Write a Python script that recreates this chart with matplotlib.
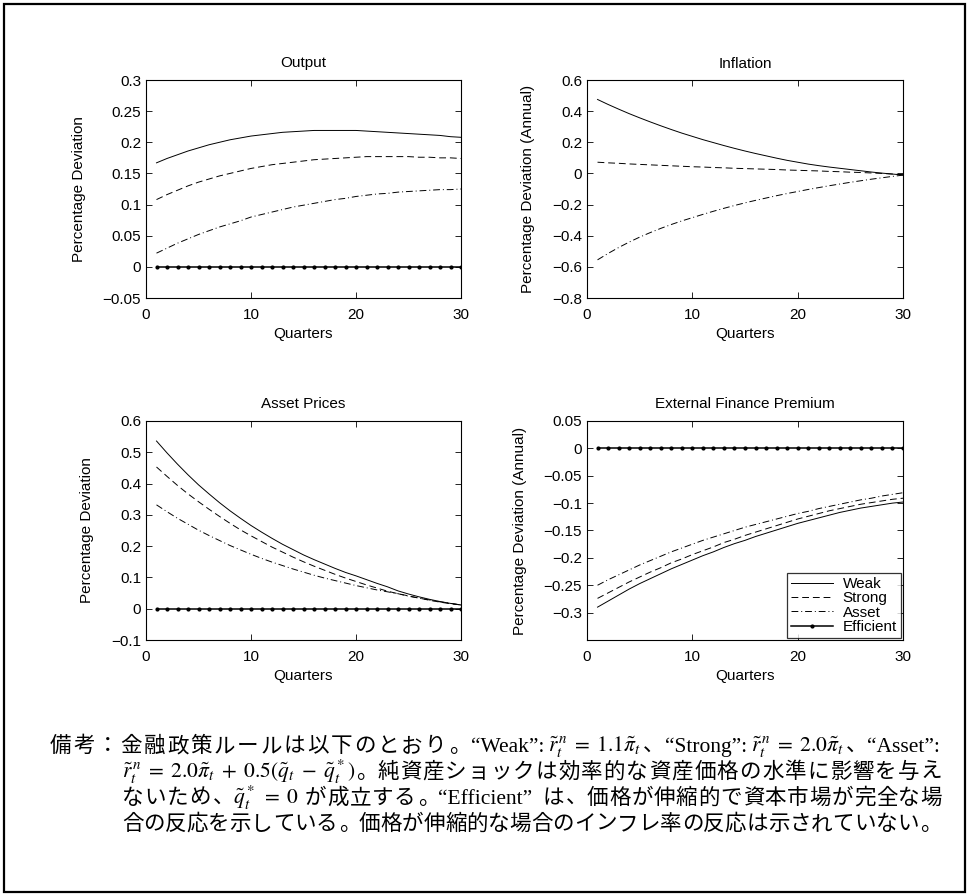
import numpy as np
import matplotlib
matplotlib.use('Agg')
import matplotlib.pyplot as plt
from matplotlib.patches import Rectangle

plt.rcParams['font.family'] = ['Liberation Sans', 'DejaVu Sans']
plt.rcParams['mathtext.fontset'] = 'stix'
plt.rcParams['axes.linewidth'] = 0.8

# quarters after the net worth shock
quarters = np.arange(1, 31)

# Output
output_weak = [0.167, 0.174, 0.180, 0.186, 0.191, 0.196, 0.200, 0.204, 0.207, 0.210,
               0.212, 0.214, 0.216, 0.217, 0.218, 0.219, 0.219, 0.219, 0.219, 0.219,
               0.218, 0.217, 0.216, 0.215, 0.214, 0.213, 0.212, 0.211, 0.209, 0.208]
output_strong = [0.108, 0.116, 0.123, 0.130, 0.136, 0.141, 0.146, 0.150, 0.154, 0.158,
                 0.161, 0.164, 0.166, 0.168, 0.170, 0.172, 0.173, 0.174, 0.175, 0.176,
                 0.177, 0.177, 0.177, 0.177, 0.177, 0.176, 0.176, 0.175, 0.175, 0.174]
output_asset = [0.022, 0.030, 0.038, 0.045, 0.052, 0.058, 0.064, 0.069, 0.074, 0.080,
                0.084, 0.088, 0.092, 0.096, 0.099, 0.102, 0.105, 0.108, 0.110, 0.113,
                0.115, 0.117, 0.118, 0.120, 0.121, 0.122, 0.123, 0.124, 0.124, 0.125]

# Inflation (annual)
infl_weak = [0.475, 0.443, 0.413, 0.384, 0.357, 0.331, 0.306, 0.282, 0.259, 0.238,
             0.217, 0.198, 0.179, 0.161, 0.144, 0.128, 0.113, 0.098, 0.084, 0.072,
             0.060, 0.050, 0.041, 0.033, 0.025, 0.017, 0.009, 0.002, -0.004, -0.010]
infl_strong = [0.072, 0.068, 0.065, 0.061, 0.058, 0.055, 0.052, 0.049, 0.046, 0.043,
               0.041, 0.038, 0.036, 0.033, 0.031, 0.029, 0.027, 0.025, 0.022, 0.020,
               0.018, 0.016, 0.013, 0.011, 0.008, 0.006, 0.003, 0.000, -0.004, -0.008]
infl_asset = [-0.555, -0.514, -0.476, -0.441, -0.409, -0.380, -0.353, -0.328, -0.305, -0.284,
              -0.263, -0.243, -0.224, -0.206, -0.189, -0.173, -0.158, -0.143, -0.129, -0.116,
              -0.103, -0.091, -0.079, -0.068, -0.057, -0.047, -0.037, -0.028, -0.019, -0.011]

# Asset prices
asset_weak = [0.536, 0.498, 0.462, 0.428, 0.396, 0.367, 0.339, 0.313, 0.289, 0.266,
              0.245, 0.225, 0.206, 0.189, 0.172, 0.157, 0.143, 0.129, 0.116, 0.105,
              0.093, 0.081, 0.070, 0.057, 0.047, 0.038, 0.030, 0.023, 0.017, 0.012]
asset_strong = [0.453, 0.423, 0.394, 0.367, 0.342, 0.318, 0.295, 0.273, 0.252, 0.233,
                0.215, 0.197, 0.181, 0.165, 0.150, 0.136, 0.123, 0.110, 0.098, 0.087,
                0.076, 0.066, 0.056, 0.048, 0.041, 0.034, 0.027, 0.021, 0.016, 0.012]
asset_asset = [0.332, 0.310, 0.289, 0.270, 0.251, 0.234, 0.218, 0.202, 0.188, 0.174,
               0.161, 0.149, 0.138, 0.127, 0.117, 0.107, 0.098, 0.090, 0.082, 0.074,
               0.067, 0.060, 0.054, 0.048, 0.040, 0.034, 0.028, 0.022, 0.017, 0.012]

# External finance premium (annual)
efp_weak = [-0.290, -0.279, -0.268, -0.257, -0.247, -0.238, -0.229, -0.220, -0.212, -0.204,
            -0.196, -0.189, -0.181, -0.174, -0.168, -0.161, -0.155, -0.149, -0.143, -0.137,
            -0.132, -0.127, -0.122, -0.117, -0.113, -0.109, -0.106, -0.103, -0.100, -0.098]
efp_strong = [-0.274, -0.264, -0.254, -0.244, -0.235, -0.226, -0.218, -0.209, -0.202, -0.194,
              -0.187, -0.180, -0.172, -0.166, -0.159, -0.153, -0.147, -0.141, -0.135, -0.129,
              -0.124, -0.119, -0.114, -0.110, -0.106, -0.102, -0.099, -0.096, -0.093, -0.091]
efp_asset = [-0.250, -0.240, -0.231, -0.222, -0.213, -0.205, -0.197, -0.189, -0.182, -0.175,
             -0.168, -0.162, -0.156, -0.150, -0.144, -0.139, -0.134, -0.129, -0.124, -0.119,
             -0.115, -0.110, -0.106, -0.102, -0.098, -0.094, -0.091, -0.087, -0.084, -0.081]

# flexible price / perfect capital market case
efficient = [0.0] * 30

labels = ['Weak', 'Strong', 'Asset', 'Efficient']
xticks = [0, 10, 20, 30]

W, H = 969, 896


def px_rect(x0, y0, x1, y1):
    # pixel box (top-left origin) -> figure fraction
    return [x0 / W, 1 - y1 / H, (x1 - x0) / W, (y1 - y0) / H]


def panel(rect, title, ylabel, ylim, yticks, yticklabels, weak, strong, asset, eff=True):
    ax = fig.add_axes(px_rect(*rect))
    ax.plot(quarters, weak, 'k-', lw=0.7, label=labels[0])
    ax.plot(quarters, strong, 'k--', lw=0.7, dashes=(7, 4), label=labels[1])
    ax.plot(quarters, asset, 'k-.', lw=0.7, dashes=(7, 3, 1, 3), label=labels[2])
    if eff:
        ax.plot(quarters, efficient, 'k.-', lw=1.1, ms=4, label=labels[3])
    ax.set_xlim(0, 30)
    ax.set_ylim(*ylim)
    ax.set_xticks(xticks)
    ax.set_yticks(yticks)
    ax.set_yticklabels(yticklabels)
    ax.tick_params(direction='in', top=True, right=True, length=4, width=0.6, labelsize=11)
    ax.tick_params(axis='x', pad=7)
    ax.set_title(title, fontsize=11, pad=9)
    ax.set_xlabel('Quarters', fontsize=11, labelpad=4)
    ax.set_ylabel(ylabel, fontsize=11, labelpad=12)
    return ax


fig = plt.figure(figsize=(W / 100, H / 100), dpi=100)

panel((146, 80, 461, 298), 'Output', 'Percentage Deviation', (-0.05, 0.3),
      [-0.05, 0, 0.05, 0.1, 0.15, 0.2, 0.25, 0.3],
      ['\u22120.05', '0', '0.05', '0.1', '0.15', '0.2', '0.25', '0.3'],
      output_weak, output_strong, output_asset)
panel((587, 80, 903, 298), 'Inflation', 'Percentage Deviation (Annual)', (-0.8, 0.6),
      [-0.8, -0.6, -0.4, -0.2, 0, 0.2, 0.4, 0.6],
      ['\u22120.8', '\u22120.6', '\u22120.4', '\u22120.2', '0', '0.2', '0.4', '0.6'],
      infl_weak, infl_strong, infl_asset, eff=False)
panel((146, 421, 461, 640), 'Asset Prices', 'Percentage Deviation', (-0.1, 0.6),
      [-0.1, 0, 0.1, 0.2, 0.3, 0.4, 0.5, 0.6],
      ['\u22120.1', '0', '0.1', '0.2', '0.3', '0.4', '0.5', '0.6'],
      asset_weak, asset_strong, asset_asset)
ax4 = panel((587, 421, 903, 640), 'External Finance Premium', 'Percentage Deviation (Annual)',
            (-0.35, 0.05),
            [-0.3, -0.25, -0.2, -0.15, -0.1, -0.05, 0, 0.05],
            ['\u22120.3', '\u22120.25', '\u22120.2', '\u22120.15', '\u22120.1', '\u22120.05', '0', '0.05'],
            efp_weak, efp_strong, efp_asset)
leg = ax4.legend(loc='lower right', fontsize=11, frameon=True, fancybox=False,
                 handlelength=2.8, handletextpad=0.6, labelspacing=0.02,
                 borderpad=0.25, borderaxespad=0.15)
leg.get_frame().set_edgecolor('black')
leg.get_frame().set_linewidth(0.9)

# note below the panels: CJK set one em per character, Latin in serif, formulas in mathtext
FS = 15.5
EM = FS * 100 / 72
note_lines = [
    (50, 752, True, [('備考：金融政策ルールは以下のとおり。“Weak”:', 0),
                     (r'$\tilde{r}^{\,n}_t\;=\;1.1\tilde{\pi}_t$', 1),
                     ('、“Strong”:', 0),
                     (r'$\tilde{r}^{\,n}_t\;=\;2.0\tilde{\pi}_t$', 1),
                     ('、“Asset”:', 0)]),
    (122, 778, True, [(r'$\tilde{r}^{\,n}_t\;=\;2.0\tilde{\pi}_t\;+\;0.5(\tilde{q}_t\;-\;\tilde{q}^*_t)$', 1),
                      ('。純資産ショックは効率的な資産価格の水準に影響を与え', 0)]),
    (122, 804, True, [('ないため、', 0),
                      (r'$\tilde{q}^*_t\;=\;0$', 1),
                      (' が成立する。“Efficient” は、価格が伸縮的で資本市場が完全な場', 0)]),
    (122, 830, False, [('合の反応を示している。価格が伸縮的な場合のインフレ率の反応は示されていない。', 0)]),
]
RIGHT = 942
serif_cjk = ['Liberation Serif', 'Noto Sans CJK JP']


def split_tokens(pieces):
    out = []
    for s, is_math in pieces:
        if is_math:
            out.append(('math', s))
            continue
        run = ''
        for ch in s:
            if ch == ' ' or ord(ch) >= 0x3000:
                if run:
                    out.append(('latin', run))
                    run = ''
                out.append(('space', ch) if ch == ' ' else ('cjk', ch))
            else:
                run += ch
        if run:
            out.append(('latin', run))
    return out


renderer = fig.canvas.get_renderer()
for x0, ybase, justify, pieces in note_lines:
    toks = split_tokens(pieces)
    items = []
    for kind, s in toks:
        if kind == 'space':
            items.append((None, EM * 0.3, kind, s))
            continue
        if kind == 'math':
            t = fig.text(0, 1 - ybase / H, s, fontsize=FS, va='baseline', ha='left')
            w = t.get_window_extent(renderer).width - 2
        elif kind == 'latin':
            t = fig.text(0, 1 - ybase / H, s, fontsize=FS, va='baseline', ha='left', family=serif_cjk)
            w = t.get_window_extent(renderer).width + 2
        else:
            ha = 'left' if s in '。、' else 'center'
            t = fig.text(0, 1 - ybase / H, s, fontsize=FS, va='baseline', ha=ha, family=serif_cjk)
            w = EM
        items.append((t, w, kind, s))
    natural = sum(w for _, w, _, _ in items)
    gap = (RIGHT - x0 - natural) / (len(items) - 1) if justify else 0.0
    x = x0
    for t, w, kind, s in items:
        if t is not None:
            if kind == 'cjk' and s not in '。、':
                t.set_x((x + EM / 2) / W)
            elif kind == 'cjk':
                t.set_x((x + EM * 0.08) / W)
            else:
                t.set_x(x / W)
        x += w + gap

# frame around the whole exhibit
fig.patches.append(Rectangle((4 / W, 4 / H), (W - 8) / W, (H - 8) / H, transform=fig.transFigure,
                             fill=False, edgecolor='black', linewidth=1.6))

fig.savefig('out.png', dpi=100)
